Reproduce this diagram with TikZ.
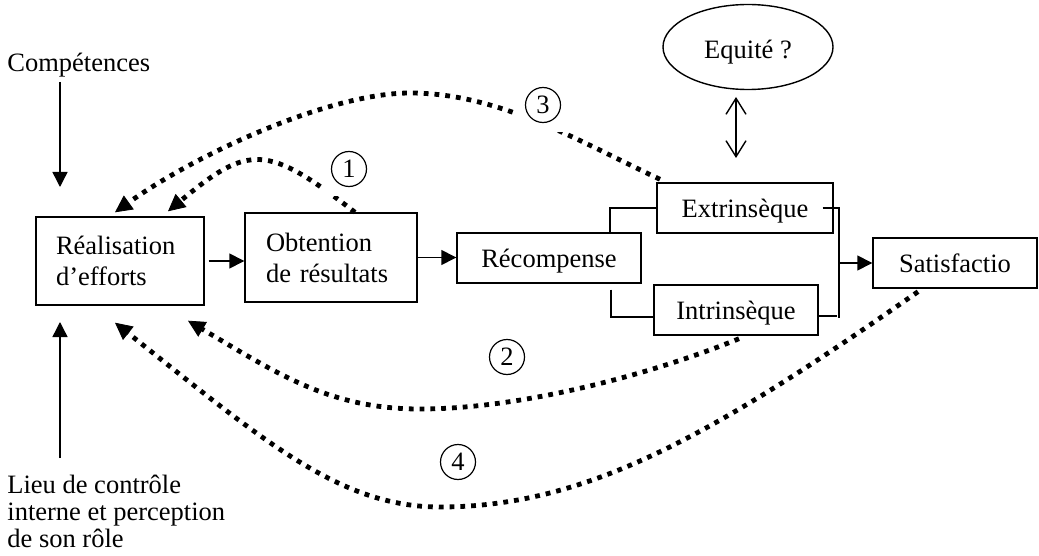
\documentclass[tikz,border=0pt]{standalone}
\usepackage{fontspec}
\setmainfont{Liberation Serif}
\usetikzlibrary{arrows.meta,shapes.geometric,calc}
\begin{document}
\begin{tikzpicture}[x=0.5pt,y=-0.5pt,
  every node/.style={font=\fontsize{13.25}{15.5}\selectfont},
  box/.style={draw,line width=0.7pt,rectangle,inner sep=0pt,text height=10.5pt,text depth=1pt},
  twobox/.style={draw,line width=0.7pt,rectangle,align=left,inner ysep=0pt},
  arr/.style={line width=0.7pt,-{Triangle[length=7.5pt,width=7.5pt]}},
  plain/.style={line width=0.7pt},
  dots/.style={line width=2.4pt,dash pattern=on 2.4pt off 3pt,-{Triangle[length=8.5pt,width=8.5pt,line width=0.4pt]}},
  numbox/.style={fill=white,minimum size=27pt,inner sep=0pt,path picture={\draw[line width=0.6pt] (path picture bounding box.center) circle (8.75pt);}},
  freetext/.style={inner sep=0pt,align=left}
]
\useasboundingbox (0,0) rectangle (1039,556);

% boxes
\node[twobox,minimum width=84pt,minimum height=44pt,text width=64pt,inner xsep=10pt] (real) at (120,261) {Réalisation\\d’efforts};
\node[twobox,minimum width=86pt,minimum height=44.5pt,text width=65pt,inner xsep=10.5pt] (obt) at (331,257.5) {Obtention\\de résultats};
\node[box,minimum width=92pt,minimum height=25pt] (rec) at (549,258) {Récompense};
\node[box,minimum width=88pt,minimum height=25pt] (ext) at (745,208) {Extrinsèque};
\node[box,minimum width=82pt,minimum height=25pt] (intr) at (736,310) {Intrinsèque};
\node[box,minimum width=82pt,minimum height=25pt] (sat) at (955,263) {Satisfactio};
\node[draw,ellipse,line width=0.7pt,minimum width=85pt,minimum height=42.5pt,inner sep=0pt,text height=12pt,text depth=0pt] (eq) at (748,47) {Equité ?};

% free texts
\node[freetext,anchor=base west] (comp) at (7,72) {Compétences};
\node[freetext,anchor=north west,font=\fontsize{13.25}{13.35}\selectfont] (lieu) at (7,475) {Lieu de contrôle\\interne et perception\\de son rôle};

% coordinates
\coordinate (compS) at (60,82);
\coordinate (compT) at (60,187);
\coordinate (lieuS) at (60,458);
\coordinate (lieuT) at (60,322);
\coordinate (eqT) at (736,97);
\coordinate (eqB) at (736,158);
\coordinate (rb) at (839,208);
\coordinate (rbB) at (839,318);

% solid connectors
\draw[arr] (compS) -- (compT);
\draw[arr] (lieuS) -- (lieuT);
\draw[arr,shorten <=2pt] (real.east) -- (real.east -| obt.west);
\draw[arr] (obt.east) -- (obt.east -| rec.west);
\draw[line width=0.7pt,{Straight Barb[length=8pt,width=10pt]}-{Straight Barb[length=8pt,width=10pt]}] (eqT) -- (eqB);
\draw[plain] ($(rec.north)+(61,0)$) |- (ext.west);
\draw[plain] ($(rec.south)+(62,6)$) |- ($(intr.west)+(0,7)$);
\draw[plain] ($(ext.east)+(-11,0)$) -- (rb) -- (rbB);
\draw[plain] ($(intr.east)+(0,6)$) -- ($(intr.east)+(18,6)$);
\draw[arr] (rb |- sat.west) -- (sat.west);

% dotted feedback loops
\draw[dots] ($(obt.north)+(24,0)$) .. controls (267,144) and (249,144) .. ($(real.north)+(48,-5)$);
\draw[dots] ($(ext.north)+(-85,-3)$) .. controls (580,142) and (500,93) .. (410,93) .. controls (330,93) and (198,153) .. ($(real.north)+(-5,-4)$);
\draw[dots] ($(intr.south)+(3,3)$) .. controls (650,375) and (520,409) .. (420,409) .. controls (330,409) and (278,374) .. ($(real.south)+(68,15)$);
\draw[dots] ($(sat.south)+(-37,3)$) .. controls (718,431) and (590,507) .. (440,507) .. controls (340,507) and (265,442) .. ($(real.south)+(-5,17)$);

% numbered labels
\node[numbox] (n1) at (349,169) {1};
\node[numbox] (n2) at (507,357) {2};
\node[numbox] (n3) at (543,105) {3};
\node[numbox] (n4) at (458,462) {4};
\end{tikzpicture}
\end{document}
